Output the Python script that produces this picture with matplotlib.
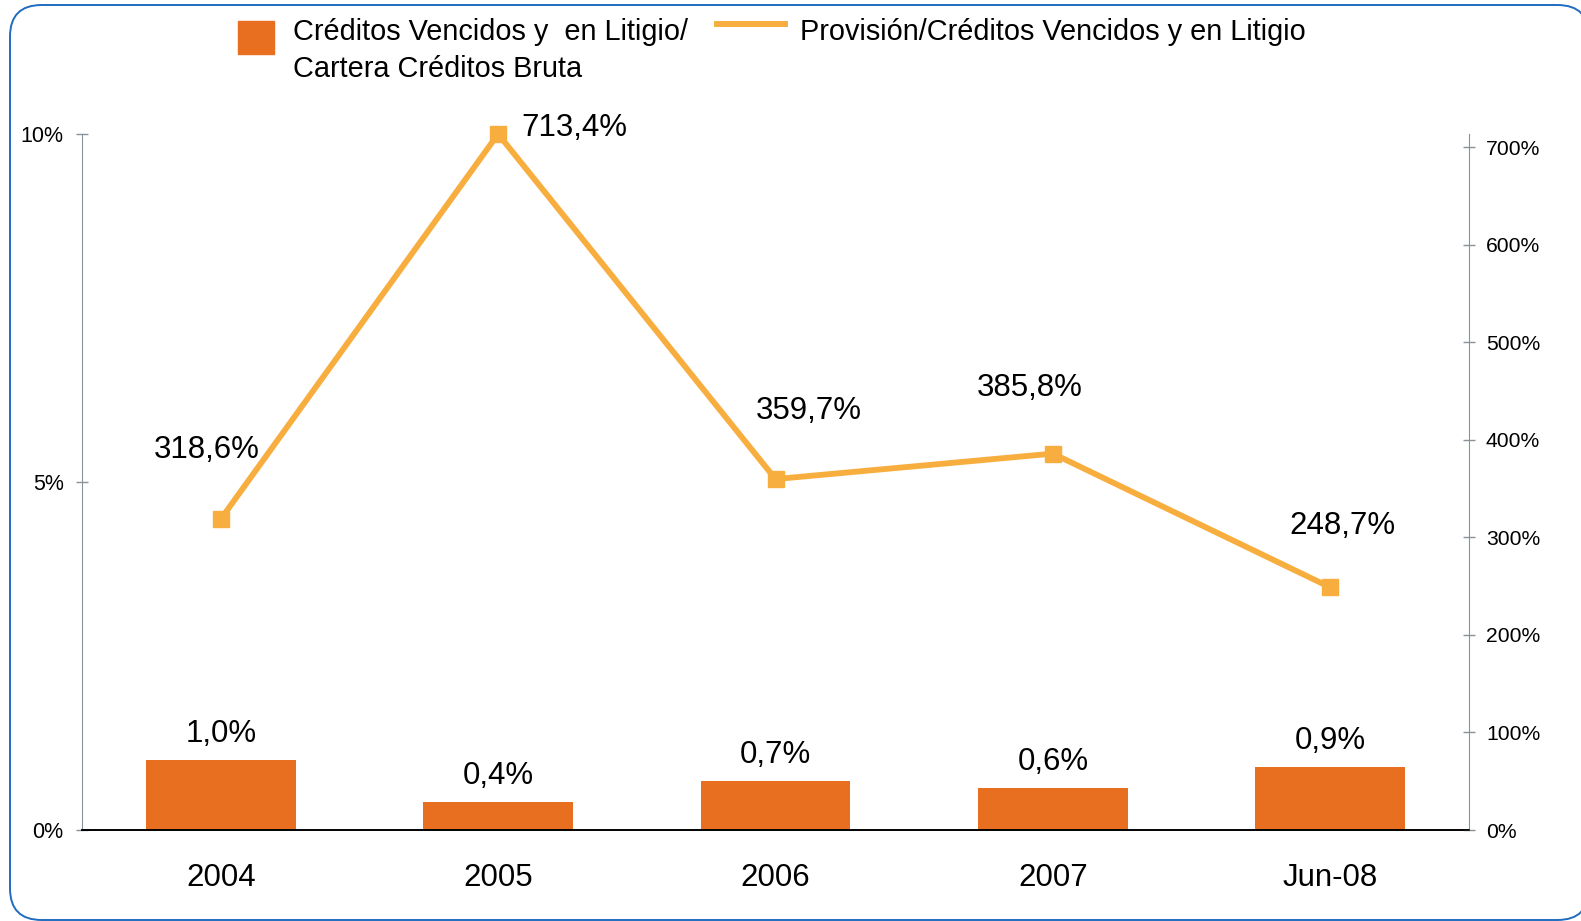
import matplotlib.pyplot as plt
from matplotlib.patches import FancyBboxPatch, Rectangle
from matplotlib.lines import Line2D
from matplotlib.ticker import FuncFormatter

categories = ['2004', '2005', '2006', '2007', 'Jun-08']
# Créditos vencidos y en litigio / cartera créditos bruta (%)
ratio_vencidos = [1.0, 0.4, 0.7, 0.6, 0.9]
# Provisión / créditos vencidos y en litigio (%)
ratio_provision = [318.6, 713.4, 359.7, 385.8, 248.7]
left_ticks = [0, 5, 10]
right_ticks = [0, 100, 200, 300, 400, 500, 600, 700]
bar_name = 'Créditos Vencidos y  en Litigio/\nCartera Créditos Bruta'
line_name = 'Provisión/Créditos Vencidos y en Litigio'

BAR_COLOR = '#E86E20'
LINE_COLOR = '#F8AE3E'
AXIS_GRAY = '#8A9299'
W, H = 1581, 921

plt.rcParams['font.family'] = ['Liberation Sans', 'DejaVu Sans']


def pct_comma(v, _pos=None):
    return f'{v:.1f}%'.replace('.', ',')


fig = plt.figure(figsize=(W / 100, H / 100), dpi=100)
ax = fig.add_axes([82 / W, (H - 830) / H, (1469 - 82) / W, 696 / H])
ax2 = ax.twinx()

x = range(len(categories))
bars = ax.bar(x, ratio_vencidos, width=0.54, color=BAR_COLOR, zorder=2)
ax.bar_label(bars, labels=[pct_comma(v) for v in ratio_vencidos],
             padding=8, fontsize=22.5)

ax.set_xlim(-0.5, len(categories) - 0.5)
ax.set_ylim(0, 10)
ax.set_yticks(left_ticks)
ax.yaxis.set_major_formatter(FuncFormatter(lambda v, p: f'{v:.0f}%'))
ax.set_xticks(list(x))
ax.set_xticklabels(categories, fontsize=22.5)
ax.tick_params(axis='x', length=0, pad=24)
ax.tick_params(axis='y', direction='inout', length=8.4, width=1,
               color=AXIS_GRAY, labelsize=15.5, pad=9)

ax2.plot(x, ratio_provision, color=LINE_COLOR, lw=4.2, marker='s',
         markersize=11, zorder=5, clip_on=False)
ax2.set_ylim(0, 713.4)
ax2.set_yticks(right_ticks)
ax2.yaxis.set_major_formatter(FuncFormatter(lambda v, p: f'{v:.0f}%'))
ax2.tick_params(axis='y', direction='inout', length=8.4, width=1,
                color=AXIS_GRAY, labelsize=15.2, pad=8)

# data labels for the line, placed as in the original slide
offsets = [(-10, 50), (55, 4), (24, 49), (-17, 47), (9, 44)]
for i, v in enumerate(ratio_provision):
    ax2.annotate(pct_comma(v), (i, v), xytext=offsets[i],
                 textcoords='offset points', ha='center', va='center',
                 fontsize=22.5, annotation_clip=False)

for a in (ax, ax2):
    a.spines['top'].set_visible(False)
    a.spines['left'].set_color(AXIS_GRAY)
    a.spines['right'].set_color(AXIS_GRAY)
    a.spines['bottom'].set_color('black')
    a.spines['bottom'].set_linewidth(1.2)
    a.set_facecolor('none')
ax2.spines['left'].set_visible(False)
ax.spines['right'].set_visible(False)


# legend, laid out by hand at the top (pixel positions from the slide)
def fx(px):
    return px / W


def fy(py):
    return (H - py) / H


fig.add_artist(Rectangle((fx(238), fy(54)), 36 / W, 33 / H,
                         transform=fig.transFigure, color=BAR_COLOR))
for k, line in enumerate(bar_name.split('\n')):
    fig.text(fx(293), fy(40 + 37 * k), line, fontsize=20.8, va='baseline')
fig.add_artist(Line2D([fx(717), fx(785)], [fy(24), fy(24)],
                      transform=fig.transFigure, color=LINE_COLOR, lw=4.3))
fig.text(fx(800), fy(40), line_name, fontsize=20.8, va='baseline')

# rounded blue frame, slightly cut at the right edge as in the slide
# (filled white so agg does not clip the curved corner at the canvas edge)
frame = FancyBboxPatch((fx(10), fy(920)), fx(1579), 915 / H,
                       boxstyle='round,pad=0,rounding_size=0.02',
                       mutation_aspect=W / H,
                       transform=fig.transFigure, facecolor='white',
                       edgecolor='#1F6CC0', lw=1.4, zorder=-5)
fig.add_artist(frame)

fig.savefig('out.png', dpi=100)
